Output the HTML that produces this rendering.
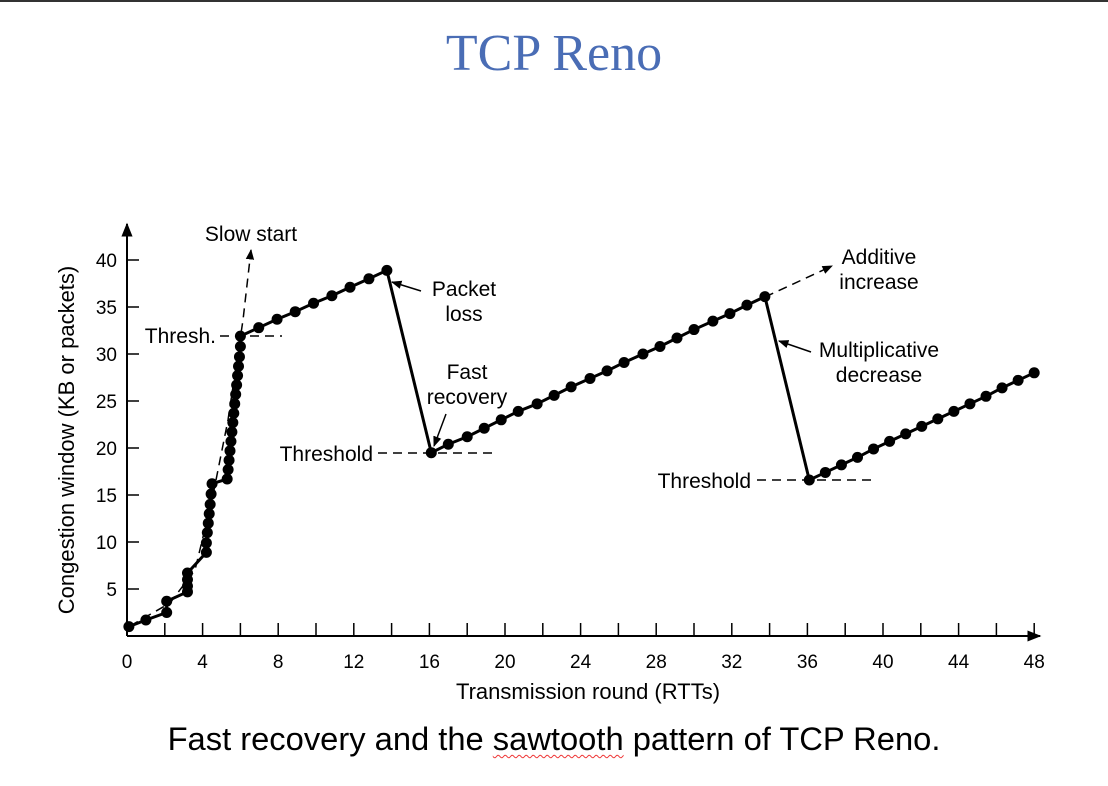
<!DOCTYPE html>
<html><head><meta charset="utf-8"><style>
html,body{margin:0;padding:0;background:#fff;}
body{width:1108px;height:786px;overflow:hidden;position:relative;font-family:"Liberation Sans",sans-serif;}
#topline{position:absolute;left:0;top:0;width:1108px;height:2px;background:#333;}
#title{position:absolute;left:0;width:1108px;top:24px;text-align:center;font-family:"Liberation Serif",serif;font-size:52px;color:#4a6db5;}
#caption{position:absolute;left:0;width:1108px;top:720px;text-align:center;font-size:32.7px;color:#000;}
.sq{text-decoration:underline wavy #e33;text-underline-offset:4px;text-decoration-thickness:1px;}
svg{position:absolute;left:0;top:0;}
</style></head><body>
<div id="topline"></div>
<div id="title">TCP Reno</div>
<svg id="chart" width="1108" height="786"></svg>
<div id="caption">Fast recovery and the <span class="sq">sawtooth</span> pattern of TCP Reno.</div>
<script>
const xTicks=[0,4,8,12,16,20,24,28,32,36,40,44,48];
const yTicks=[5,10,15,20,25,30,35,40];
const roundsX=[0.1,1,2.1,2.1,3.2,3.2,3.2,3.2,4.2,4.2,4.25,4.3,4.35,4.4,4.45,4.5,5.3,5.35,5.4,5.45,5.5,5.55,5.6,5.65,5.7,5.75,5.8,5.85,5.9,5.95,6.0,6.0,
6.97,7.94,8.9,9.87,10.84,11.8,12.8,13.75,
16.1,17.0,18.0,18.9,19.8,20.7,21.7,22.6,23.5,24.5,25.4,26.3,27.3,28.2,29.1,30.0,31.0,31.9,32.8,33.75,
36.1,36.95,37.8,38.65,39.5,40.35,41.2,42.05,42.9,43.75,44.6,45.45,46.3,47.15,48];
const cwnd=[1,1.7,2.5,3.7,4.7,5.3,6.0,6.7,8.9,9.9,11,12,13,14,15.1,16.2,16.7,17.7,18.7,19.7,20.7,21.7,22.7,23.7,24.7,25.7,26.7,27.7,28.7,29.7,30.8,31.9,
32.8,33.7,34.5,35.4,36.2,37.1,38.0,38.9,
19.5,20.4,21.2,22.1,23.0,23.9,24.7,25.6,26.5,27.4,28.2,29.1,30.0,30.8,31.7,32.6,33.5,34.3,35.2,36.1,
16.6,17.4,18.2,19.0,19.9,20.7,21.5,22.3,23.1,23.9,24.7,25.5,26.4,27.2,28.0];
const X=v=>127+v*18.9, Y=v=>636-v*9.4;
const svg=document.getElementById('chart');
const NS='http://www.w3.org/2000/svg';
function mk(t,a){const e=document.createElementNS(NS,t);for(const k in a)e.setAttribute(k,a[k]);svg.appendChild(e);return e;}
const defs=mk('defs',{});
defs.innerHTML='<marker id="ah" viewBox="0 0 10 10" refX="9" refY="5" markerWidth="7" markerHeight="7" orient="auto-start-reverse"><path d="M0,1 L10,5 L0,9 Z" fill="#000"/></marker>';
let e=mk('line',{x1:127,y1:636,x2:1040,y2:636,stroke:'#000','stroke-width':2,'marker-end':'url(#ah)'});

e=mk('line',{x1:127,y1:636,x2:127,y2:224,stroke:'#000','stroke-width':2,'marker-end':'url(#ah)'});

for(let v=2;v<=48;v+=2){e=mk('line',{x1:X(v),y1:636,x2:X(v),y2:623,stroke:'#000','stroke-width':1.5});
}
xTicks.forEach(v=>{e=mk('text',{x:X(v),y:668,'text-anchor':'middle','font-size':19,'font-family':'Liberation Sans'});e.textContent=v;
});
yTicks.forEach(v=>{e=mk('line',{x1:127,y1:Y(v),x2:139,y2:Y(v),stroke:'#000','stroke-width':1.5});

e=mk('text',{x:117,y:Y(v)+7,'text-anchor':'end','font-size':19,'font-family':'Liberation Sans'});e.textContent=v;
});
e=mk('text',{x:588,y:699,'text-anchor':'middle','font-size':22});e.textContent='Transmission round (RTTs)';

e=mk('text',{x:0,y:0,'text-anchor':'middle','font-size':22,transform:'translate(74,440) rotate(-90)'});e.textContent='Congestion window (KB or packets)';

const dash=(a,b,c,d,name,arrow)=>{const l=mk('line',{x1:a,y1:b,x2:c,y2:d,stroke:'#000','stroke-width':1.5,'stroke-dasharray':'9,6'});if(arrow)l.setAttribute('marker-end','url(#ah)');
};
e=mk('polyline',{points:'130,626 170,603 195,570 212,500 228,420 243,320 251,250',fill:'none',stroke:'#000','stroke-width':1.5,'stroke-dasharray':'9,6','marker-end':'url(#ah)'});

dash(220,336,282,336,'thresh-line');
dash(378,453,493,453,'threshold-line-1');
dash(757,480,872,480,'threshold-line-2');
dash(765,297,832,266,'additive-increase-guide',true);
e=mk('polyline',{points:roundsX.map((x,i)=>X(x)+','+Y(cwnd[i])).join(' '),fill:'none',stroke:'#000','stroke-width':3,'stroke-linejoin':'round'});

roundsX.forEach((x,i)=>{const c=mk('circle',{cx:X(x),cy:Y(cwnd[i]),r:5.5,fill:'#000'});
});
const arr=(a,b,c,d,name)=>{const l=mk('line',{x1:a,y1:b,x2:c,y2:d,stroke:'#000','stroke-width':1.5,'marker-end':'url(#ah)'});
};
arr(421,291,392,282,'packet-loss-arrow');
arr(446,414,434,446,'fast-recovery-arrow');
arr(811,352,779,341,'multiplicative-decrease-arrow');
const txt=(x,y,s,name,anchor)=>{const t=mk('text',{x:x,y:y,'font-size':21,'text-anchor':anchor||'middle'});t.textContent=s;
};
txt(251,241,'Slow start','slow-start-label');
txt(216,343,'Thresh.','thresh-label','end');
txt(464,296,'Packet','packet-loss-label');txt(464,321,'loss','packet-loss-label');
txt(467,379,'Fast','fast-recovery-label');txt(467,404,'recovery','fast-recovery-label');
txt(373,461,'Threshold','threshold-label-1','end');
txt(751,488,'Threshold','threshold-label-2','end');
txt(879,264,'Additive','additive-increase-label');txt(879,289,'increase','additive-increase-label');
txt(879,357,'Multiplicative','multiplicative-decrease-label');txt(879,382,'decrease','multiplicative-decrease-label');
</script>
</body></html>
